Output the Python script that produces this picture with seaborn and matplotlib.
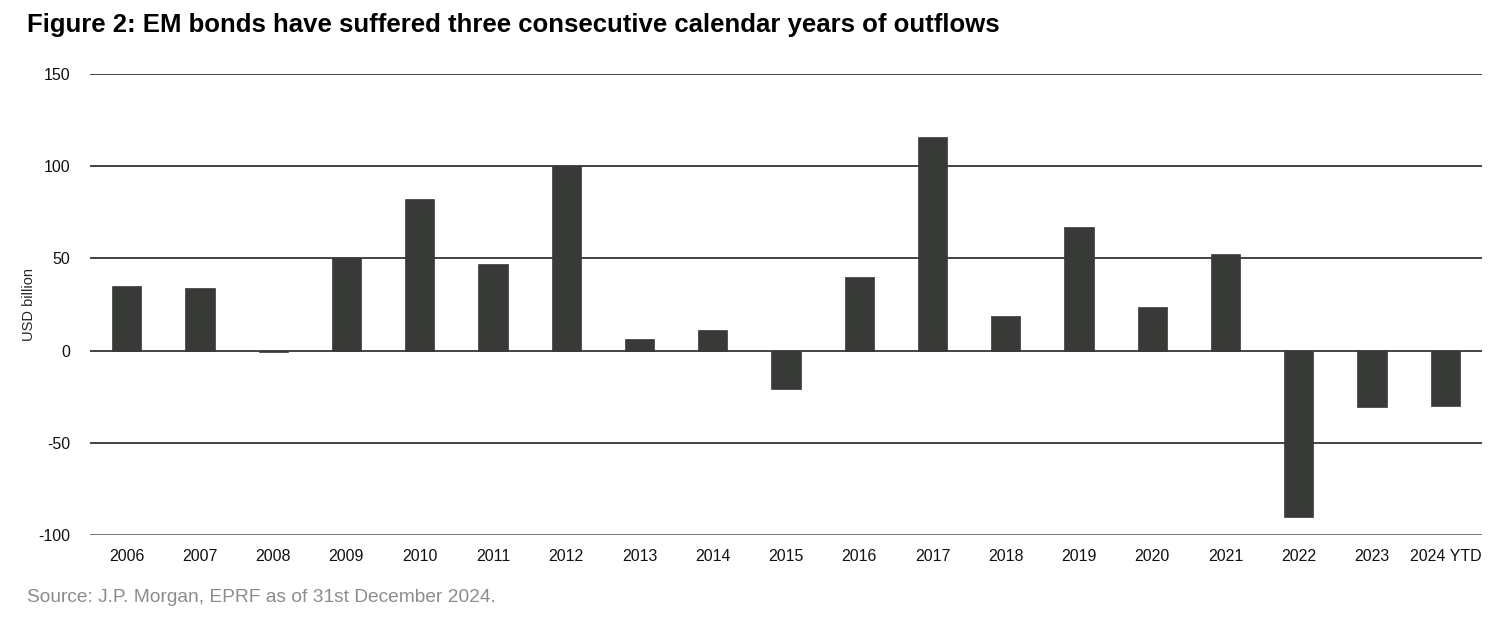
import pandas as pd
import matplotlib.pyplot as plt
import seaborn as sns

# Data
years = ['2006', '2007', '2008', '2009', '2010', '2011', '2012', '2013', '2014', '2015',
         '2016', '2017', '2018', '2019', '2020', '2021', '2022', '2023', '2024 YTD']
flows = [35, 34, -1, 50, 82, 47, 100, 6, 11, -21,
         40, 116, 19, 67, 23.5, 52.5, -90, -30.5, -30]
y_ticks = [-100, -50, 0, 50, 100, 150]

df = pd.DataFrame({'Year': years, 'Flows': flows})

sns.set_theme(style='white')
plt.rcParams['font.family'] = ['Liberation Sans', 'DejaVu Sans']

fig = plt.figure(figsize=(15, 6.21), dpi=100)
ax = fig.add_axes([0.06, 0.1385, 0.928, 0.7425])

# Gridlines first, bars on top
for t in y_ticks:
    ax.axhline(t, color='#111111' if t != -100 else '#555555', linewidth=1.1, zorder=0)

sns.barplot(data=df, x='Year', y='Flows', color='#383a37', saturation=1,
            width=0.4, edgecolor='#383a37', linewidth=0.5, ax=ax, zorder=2)

ax.set_ylim(-100, 150)
ax.set_xlim(-0.5, len(years) - 0.5)
ax.set_yticks(y_ticks)
ax.set_yticklabels([str(t) for t in y_ticks])
ax.tick_params(axis='y', length=0, pad=14, labelsize=11.5, labelcolor='#111111')
ax.tick_params(axis='x', length=0, pad=10, labelsize=11.5, labelcolor='#111111')
ax.set_xlabel('')
ax.set_ylabel('USD billion', fontsize=10.5, labelpad=2)
for s in ax.spines.values():
    s.set_visible(False)

fig.text(27 / 1500, 1 - 25 / 621, 'Figure 2: EM bonds have suffered three consecutive calendar years of outflows',
         fontsize=18.5, fontweight='bold', ha='left', va='center', color='#000000')
fig.text(27 / 1500, 1 - 598 / 621, 'Source: J.P. Morgan, EPRF as of 31st December 2024.',
         fontsize=13.8, ha='left', va='center', color='#8c8c8c')

fig.savefig('out.png', dpi=100)
